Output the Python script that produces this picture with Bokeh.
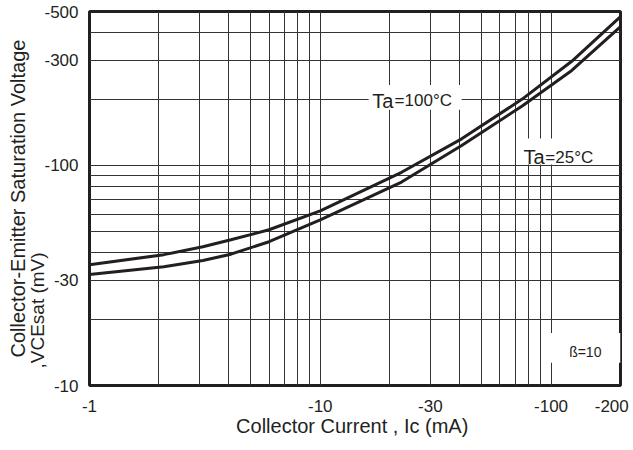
from bokeh.plotting import figure
from bokeh.models import Range1d, FixedTicker, CustomJSTickFormatter, Label, BoxAnnotation, Title
from bokeh.embed import file_html
from bokeh.resources import INLINE

# ---- data (magnitudes; axis labels show negative sign) ----
current_ma = [1, 2.1, 3.1, 4.1, 6, 10, 22.5, 41, 75, 123, 200]
vce_ta100 = [35.4, 39.3, 42.7, 45.9, 51.0, 62.1, 93.0, 132, 200, 297, 474]
vce_ta25 = [31.9, 34.6, 37.0, 39.5, 45.0, 56.5, 84.0, 123, 186, 270, 427]

x_ticks = [1, 10, 30, 100, 200]
y_ticks = [10, 30, 100, 300, 500]
x_grid = [2, 3, 4, 5, 6, 7, 8, 9, 10, 20, 30, 40, 50, 60, 70, 80, 90, 100]
y_grid = [20, 30, 40, 50, 60, 70, 80, 90, 100, 200, 300, 400]

INK = "#231f20"
FONT = "Liberation Sans"

p = figure(width=633, height=450, x_axis_type="log", y_axis_type="log",
           x_range=Range1d(1, 200), y_range=Range1d(10, 500),
           output_backend="svg", toolbar_location=None, title=None,
           min_border_left=89, min_border_right=13, min_border_top=11,
           min_border_bottom=65)
p.background_fill_color = "white"
p.border_fill_color = "white"
p.outline_line_color = INK
p.outline_line_width = 3
p.outline_line_alpha = 1

for ax in p.axis:
    ax.axis_line_color = None
    ax.major_tick_line_color = None
    ax.minor_tick_line_color = None
    ax.major_label_text_font = FONT
    ax.major_label_text_font_size = "17px"
    ax.major_label_text_color = INK

p.xaxis.ticker = FixedTicker(ticks=x_ticks, minor_ticks=[])
p.yaxis.ticker = FixedTicker(ticks=y_ticks, minor_ticks=[])
p.xaxis.formatter = CustomJSTickFormatter(
    code="return tick >= 199 ? '-200\\u00a0' : '-' + tick;")
p.yaxis.formatter = CustomJSTickFormatter(code="return '-' + tick;")
p.xaxis.major_label_standoff = 5
p.yaxis.major_label_standoff = 5

p.xaxis.axis_label = "Collector Current , Ic  (mA)"
p.xaxis.axis_label_text_font = FONT
p.xaxis.axis_label_text_font_size = "20px"
p.xaxis.axis_label_text_font_style = "normal"
p.xaxis.axis_label_text_color = INK
p.xaxis.axis_label_standoff = -4

p.xgrid.ticker = FixedTicker(ticks=x_grid, minor_ticks=[])
p.ygrid.ticker = FixedTicker(ticks=y_grid, minor_ticks=[])
for g in (p.xgrid, p.ygrid):
    g.grid_line_color = "#333333"
    g.grid_line_width = 1
    g.grid_line_alpha = 1

p.line(current_ma, vce_ta100, line_width=3, line_color=INK)
p.line(current_ma, vce_ta25, line_width=3, line_color=INK)

# white boxes behind the in-plot labels
for l, r, b, t in [(16.2, 41, 179, 232), (74.8, 161.7, 101, 132.3), (96, 200, 12.7, 17.3)]:
    p.add_layout(BoxAnnotation(left=l, right=r, bottom=b, top=t,
                               fill_color="white", fill_alpha=1, line_color=None))

def lab(x, y, text, size):
    p.add_layout(Label(x=x, y=y, text=text, text_font=FONT, text_font_size=size,
                       text_color=INK, text_align="left", text_baseline="alphabetic"))

lab(16.8, 196.9, "Ta", "20px")
lab(21.0, 196.9, "=100°C", "17px")
lab(76.0, 108.7, "Ta", "20px")
lab(94.5, 108.7, "=25°C", "17px")
lab(119.8, 14.23, "ß=10", "14px")

# y-axis title: two lines, placed as side titles (inner line first)
p.add_layout(Title(text=",VCEsat (mV)", align="left", offset=17, standoff=-13,
                   text_font=FONT, text_font_size="19px", text_font_style="normal",
                   text_color=INK), "left")
p.add_layout(Title(text="Collector-Emitter Saturation Voltage", align="center",
                   standoff=5, text_font=FONT, text_font_size="20px",
                   text_font_style="normal", text_color=INK), "left")

open("out.html", "w").write(file_html(p, INLINE))
